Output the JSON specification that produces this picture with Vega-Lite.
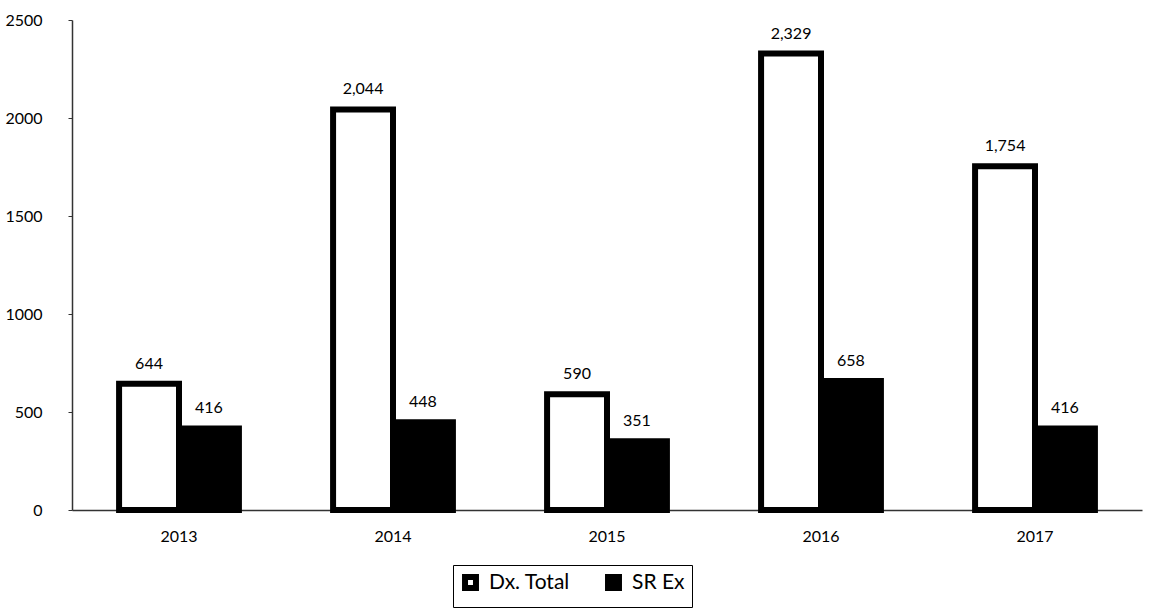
{
  "$schema": "https://vega.github.io/schema/vega-lite/v6.json",
  "width": 1070,
  "height": 490,
  "autosize": {"type": "none"},
  "padding": {"left": 72, "top": 20, "right": 11, "bottom": 105},
  "background": "white",
  "config": {
    "font": "Lato",
    "view": {"stroke": null}
  },
  "data": {
    "values": [
      {"year": "2013", "series": "Dx. Total", "value": 644},
      {"year": "2013", "series": "SR Ex", "value": 416},
      {"year": "2014", "series": "Dx. Total", "value": 2044},
      {"year": "2014", "series": "SR Ex", "value": 448},
      {"year": "2015", "series": "Dx. Total", "value": 590},
      {"year": "2015", "series": "SR Ex", "value": 351},
      {"year": "2016", "series": "Dx. Total", "value": 2329},
      {"year": "2016", "series": "SR Ex", "value": 658},
      {"year": "2017", "series": "Dx. Total", "value": 1754},
      {"year": "2017", "series": "SR Ex", "value": 416}
    ]
  },
  "encoding": {
    "x": {
      "field": "year",
      "type": "nominal",
      "title": null,
      "scale": {"paddingInner": 0.44, "paddingOuter": 0.22},
      "axis": {
        "labelAngle": 0,
        "labelFontSize": 16,
        "labelColor": "black",
        "labelPadding": 18,
        "ticks": false,
        "domainColor": "#333",
        "domainWidth": 1.5
      }
    },
    "xOffset": {"field": "series", "type": "nominal", "sort": ["Dx. Total", "SR Ex"]},
    "y": {
      "field": "value",
      "type": "quantitative",
      "title": null,
      "scale": {"domain": [0, 2500], "nice": false},
      "axis": {
        "values": [0, 500, 1000, 1500, 2000, 2500],
        "format": "d",
        "grid": false,
        "labelFontSize": 16,
        "labelColor": "black",
        "labelPadding": 26,
        "tickSize": 4,
        "tickColor": "#333",
        "domainColor": "#333",
        "domainWidth": 1.5
      }
    }
  },
  "layer": [
    {
      "mark": {"type": "bar", "stroke": "black", "strokeWidth": 6, "strokeJoin": "miter"},
      "encoding": {
        "fill": {
          "field": "series",
          "type": "nominal",
          "sort": ["Dx. Total", "SR Ex"],
          "scale": {"range": ["white", "black"]},
          "legend": {
            "title": null,
            "orient": "none",
            "legendX": 381,
            "legendY": 545,
            "direction": "horizontal",
            "symbolType": "square",
            "symbolSize": 120,
            "symbolStrokeColor": "black",
            "symbolStrokeWidth": 6,
            "labelFontSize": 21,
            "labelColor": "black",
            "labelOffset": 8,
            "strokeColor": "black",
            "padding": 7,
            "columnPadding": 26
          }
        }
      }
    },
    {
      "mark": {"type": "text", "baseline": "bottom", "dy": -12, "fontSize": 16, "color": "black"},
      "encoding": {
        "text": {"field": "value", "type": "quantitative", "format": ","}
      }
    }
  ]
}
